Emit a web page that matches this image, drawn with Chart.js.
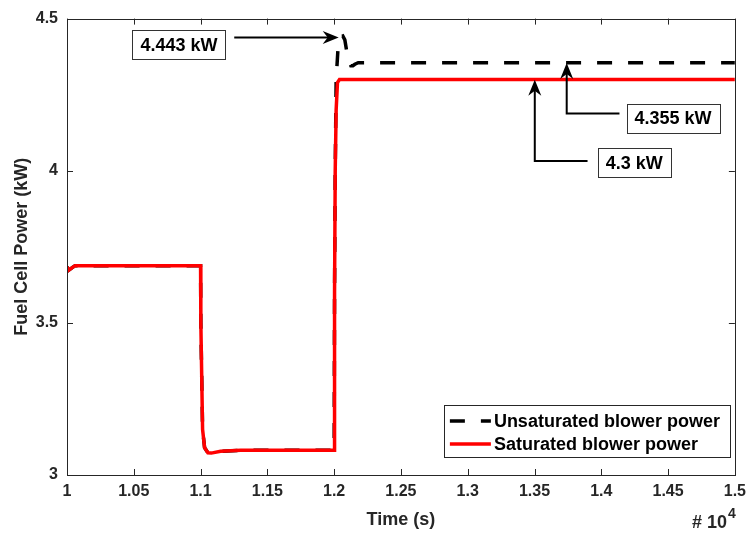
<!DOCTYPE html>
<html>
<head>
<meta charset="utf-8">
<script src="https://cdn.jsdelivr.net/npm/chart.js@4.4.0/dist/chart.umd.min.js"></script>
<style>
  html, body { margin: 0; padding: 0; background: #fff; }
  #wrap { width: 753px; height: 533px; }
</style>
</head>
<body>
<div id="wrap"><canvas id="fc_power"></canvas></div>
<script>
// time in units of 1e4 s
var timeUnsat = [1.0, 1.001, 1.006, 1.1, 1.1002, 1.1015, 1.103, 1.1055, 1.108, 1.115, 1.13, 1.2,
  1.2003, 1.2008, 1.2015, 1.203, 1.205, 1.2065, 1.208, 1.2095, 1.211, 1.2125, 1.214, 1.2155, 1.218, 1.5];
var powerUnsat = [3.685, 3.672, 3.688, 3.688, 3.5, 3.15, 3.09, 3.073, 3.072, 3.078, 3.081, 3.081,
  3.6, 4.0, 4.3, 4.41, 4.44, 4.443, 4.43, 4.39, 4.36, 4.345, 4.345, 4.35, 4.355, 4.355];

var timeSat = [1.0, 1.001, 1.006, 1.1, 1.1002, 1.1015, 1.103, 1.1055, 1.108, 1.115, 1.13, 1.2,
  1.2003, 1.2008, 1.2015, 1.2025, 1.204, 1.5];
var powerSat = [3.685, 3.672, 3.688, 3.688, 3.5, 3.15, 3.09, 3.073, 3.072, 3.078, 3.081, 3.081,
  3.6, 4.0, 4.2, 4.29, 4.30, 4.30];

var xTicks = [1, 1.05, 1.1, 1.15, 1.2, 1.25, 1.3, 1.35, 1.4, 1.45, 1.5];
var yTicks = [3, 3.5, 4, 4.5];

// callouts: box centre, arrow start, elbow(s), tip -- all in data units
var notes = [
  { text: '4.443 kW', box: [1.0838, 4.414], path: [[1.1252, 4.438], [1.2034, 4.438]] },
  { text: '4.355 kW', box: [1.4537, 4.172], path: [[1.4136, 4.188], [1.3741, 4.188], [1.3741, 4.354]] },
  { text: '4.3 kW',   box: [1.4247, 4.026], path: [[1.3897, 4.032], [1.3502, 4.032], [1.3502, 4.299]] }
];

var FONT = '"Liberation Sans", Arial, sans-serif';
var AXIS_COL = '#262626';

function pts(xs, ys) {
  return xs.map(function(x, i){ return { x: x, y: ys[i] }; });
}

function fmt(v) { return String(Number(v.toFixed(2))); }

function arrowHead(ctx, x0, y0, x1, y1) {
  var a = Math.atan2(y1 - y0, x1 - x0);
  var L = 16, W = 6.5, back = 5;
  ctx.save();
  ctx.translate(x1, y1);
  ctx.rotate(a);
  ctx.beginPath();
  ctx.moveTo(0, 0);
  ctx.lineTo(-L, -W);
  ctx.lineTo(-L + back, 0);
  ctx.lineTo(-L, W);
  ctx.closePath();
  ctx.fill();
  ctx.restore();
}

var framePlugin = {
  id: 'frame',
  afterDatasetsDraw: function(chart) {
    var ctx = chart.ctx, a = chart.chartArea;
    var xs = chart.scales.x, ys = chart.scales.y;
    ctx.save();
    ctx.strokeStyle = AXIS_COL;
    ctx.lineWidth = 1;
    ctx.strokeRect(Math.round(a.left) + 0.5, Math.round(a.top) + 0.5,
      Math.round(a.right - a.left), Math.round(a.bottom - a.top));
    ctx.beginPath();
    var tl = 6;
    xTicks.forEach(function(v){
      var px = Math.round(xs.getPixelForValue(v)) + 0.5;
      ctx.moveTo(px, a.bottom); ctx.lineTo(px, a.bottom - tl);
      ctx.moveTo(px, a.top); ctx.lineTo(px, a.top + tl);
    });
    yTicks.forEach(function(v){
      var py = Math.round(ys.getPixelForValue(v)) + 0.5;
      ctx.moveTo(a.left, py); ctx.lineTo(a.left + tl, py);
      ctx.moveTo(a.right, py); ctx.lineTo(a.right - tl, py);
    });
    ctx.stroke();
    ctx.restore();
  },
  afterDraw: function(chart) {
    var ctx = chart.ctx, a = chart.chartArea;
    var xs = chart.scales.x, ys = chart.scales.y;
    ctx.save();

    // callouts
    ctx.font = 'bold 18px ' + FONT;
    ctx.textAlign = 'center';
    ctx.textBaseline = 'middle';
    notes.forEach(function(n){
      var cx = xs.getPixelForValue(n.box[0]), cy = ys.getPixelForValue(n.box[1]);
      var w = ctx.measureText(n.text).width + 16, h = 29;
      ctx.fillStyle = '#fff';
      ctx.fillRect(cx - w / 2, cy - h / 2, w, h);
      ctx.strokeStyle = '#333';
      ctx.lineWidth = 1;
      ctx.strokeRect(Math.round(cx - w / 2) + 0.5, Math.round(cy - h / 2) + 0.5, Math.round(w), h);
      ctx.fillStyle = '#000';
      ctx.fillText(n.text, cx, cy + 1);

      var p = n.path.map(function(q){ return [xs.getPixelForValue(q[0]), ys.getPixelForValue(q[1])]; });
      ctx.strokeStyle = '#000';
      ctx.lineWidth = 2;
      ctx.beginPath();
      ctx.moveTo(p[0][0], p[0][1]);
      for (var i = 1; i < p.length; i++) {
        var last = i === p.length - 1;
        var px = p[i][0], py = p[i][1];
        if (last) {
          // stop short so the line ends inside the head
          var dx = px - p[i-1][0], dy = py - p[i-1][1], d = Math.sqrt(dx*dx + dy*dy);
          px -= dx / d * 10; py -= dy / d * 10;
        }
        ctx.lineTo(px, py);
      }
      ctx.stroke();
      ctx.fillStyle = '#000';
      var k = p.length - 1;
      arrowHead(ctx, p[k-1][0], p[k-1][1], p[k][0], p[k][1]);
    });

    // legend
    var lw = 286, lh = 52;
    var lx = a.right - 5 - lw, ly = a.bottom - 18 - lh;
    ctx.fillStyle = '#fff';
    ctx.fillRect(lx, ly, lw, lh);
    ctx.strokeStyle = '#262626';
    ctx.lineWidth = 1;
    ctx.strokeRect(Math.round(lx) + 0.5, Math.round(ly) + 0.5, lw, lh);
    var rows = [
      { label: 'Unsaturated blower power', color: '#000', dash: [15, 16] },
      { label: 'Saturated blower power', color: '#ff0000', dash: [] }
    ];
    ctx.textAlign = 'left';
    rows.forEach(function(r, i){
      var y = ly + 16 + i * 23;
      ctx.strokeStyle = r.color;
      ctx.lineWidth = 3.5;
      ctx.setLineDash(r.dash);
      ctx.beginPath();
      ctx.moveTo(lx + 6, y); ctx.lineTo(lx + 47, y);
      ctx.stroke();
      ctx.setLineDash([]);
      ctx.fillStyle = '#000';
      ctx.fillText(r.label, lx + 50, y + 1);
    });

    // exponent label
    ctx.fillStyle = AXIS_COL;
    ctx.textAlign = 'left';
    ctx.textBaseline = 'alphabetic';
    ctx.font = 'bold 18px ' + FONT;
    var ex = 692, ey = 528;
    ctx.fillText('# 10', ex, ey);
    var w1 = ctx.measureText('# 10').width;
    ctx.font = 'bold 14px ' + FONT;
    ctx.fillText('4', ex + w1 + 1, ey - 10);
    ctx.restore();
  }
};

var ctx = document.getElementById('fc_power');
var chart = new Chart(ctx, {
  type: 'line',
  data: {
    datasets: [{
      label: 'Unsaturated blower power',
      data: pts(timeUnsat, powerUnsat),
      borderColor: '#000000',
      borderWidth: 3.5,
      borderDash: [15, 16],
      pointRadius: 0,
      tension: 0,
      order: 2
    }, {
      label: 'Saturated blower power',
      data: pts(timeSat, powerSat),
      borderColor: '#ff0000',
      borderWidth: 3.5,
      pointRadius: 0,
      tension: 0,
      order: 1
    }]
  },
  options: {
    responsive: true,
    maintainAspectRatio: false,
    animation: false,
    events: [],
    layout: { padding: { left: 0, right: 15, top: 13, bottom: 0 } },
    plugins: {
      legend: { display: false },
      tooltip: { enabled: false }
    },
    scales: {
      x: {
        type: 'linear',
        min: 1, max: 1.5,
        afterBuildTicks: function(s){ s.ticks = xTicks.map(function(v){ return { value: v }; }); },
        afterFit: function(s){ s.height = 58; },
        grid: { display: false, drawTicks: false },
        border: { display: false },
        ticks: {
          padding: 7,
          color: AXIS_COL,
          font: { family: FONT, size: 16, weight: 'bold' },
          maxRotation: 0,
          autoSkip: false,
          callback: function(v){ return fmt(v); }
        },
        title: {
          display: true,
          text: 'Time (s)',
          color: AXIS_COL,
          font: { family: FONT, size: 18, weight: 'bold' },
          padding: { top: 0, bottom: 2 }
        }
      },
      y: {
        min: 3, max: 4.5,
        afterBuildTicks: function(s){ s.ticks = yTicks.map(function(v){ return { value: v }; }); },
        afterFit: function(s){ s.width = 67; },
        grid: { display: false, drawTicks: false },
        border: { display: false },
        ticks: {
          padding: 9,
          color: AXIS_COL,
          font: { family: FONT, size: 16, weight: 'bold' },
          callback: function(v){ return fmt(v); }
        },
        title: {
          display: true,
          text: 'Fuel Cell Power (kW)',
          color: AXIS_COL,
          font: { family: FONT, size: 18, weight: 'bold' },
          padding: { top: 11, bottom: 0 }
        }
      }
    }
  },
  plugins: [framePlugin]
});
</script>
</body>
</html>
